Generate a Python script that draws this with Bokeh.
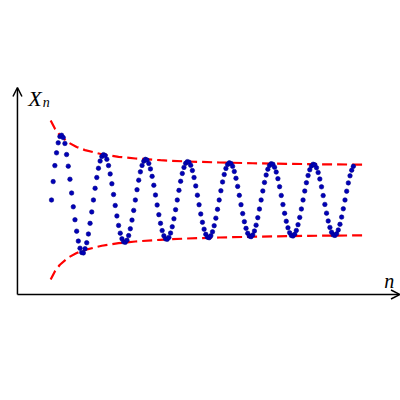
from bokeh.plotting import figure
from bokeh.models import Range1d, Arrow, OpenHead, Label
from bokeh.embed import file_html
from bokeh.resources import INLINE

# sequence index n and values X_n
n_vals = list(range(181))
x_vals = [
    1.000, 1.195, 1.364, 1.499, 1.605, 1.672, 1.685, 1.660, 1.598, 1.481,
    1.358, 1.220, 1.074, 0.928, 0.791, 0.670, 0.565, 0.490, 0.445, 0.440,
    0.485, 0.548, 0.640, 0.753, 0.874,
    1.000, 1.124, 1.238, 1.336, 1.412, 1.460, 1.480, 1.470, 1.430, 1.364,
    1.276, 1.172, 1.058, 0.942, 0.831, 0.731, 0.649, 0.590, 0.557, 0.552,
    0.574, 0.623, 0.696, 0.787, 0.890,
    1.000, 1.109, 1.210, 1.298, 1.366, 1.411, 1.430, 1.422, 1.387, 1.329,
    1.250, 1.156, 1.053, 0.947, 0.845, 0.753, 0.676, 0.621, 0.589, 0.584,
    0.604, 0.650, 0.717, 0.801, 0.898,
    1.000, 1.102, 1.198, 1.281, 1.345, 1.388, 1.406, 1.400, 1.367, 1.312,
    1.238, 1.149, 1.051, 0.950, 0.852, 0.764, 0.691, 0.637, 0.607, 0.601,
    0.621, 0.663, 0.728, 0.808, 0.901,
    1.000, 1.098, 1.191, 1.270, 1.334, 1.375, 1.393, 1.386, 1.356, 1.302,
    1.230, 1.144, 1.049, 0.951, 0.856, 0.771, 0.700, 0.648, 0.618, 0.612,
    0.630, 0.672, 0.734, 0.813, 0.904,
    1.000, 1.096, 1.186, 1.264, 1.326, 1.366, 1.384, 1.378, 1.347, 1.296,
    1.226, 1.141, 1.048, 0.952, 0.859, 0.775, 0.706, 0.654, 0.625, 0.619,
    0.638, 0.678, 0.739, 0.816, 0.905,
    1.000, 1.095, 1.183, 1.259, 1.320, 1.360, 1.378, 1.372, 1.342, 1.291,
    1.222, 1.139, 1.047, 0.953, 0.861, 0.778, 0.710, 0.659, 0.631, 0.625,
    0.642, 0.683, 0.743, 0.819, 0.907,
    1.000, 1.093, 1.181, 1.256, 1.316, 1.356,
]

# envelope curves (limsup / liminf bounds)
env_n = [-0.5, 2, 5, 10, 15, 20, 30, 40, 50, 65, 80, 100, 120, 140, 160, 186]
env_upper = [1.842, 1.756, 1.685, 1.609, 1.561, 1.528, 1.484, 1.457, 1.439,
             1.421, 1.408, 1.397, 1.389, 1.383, 1.378, 1.374]
env_lower = [0.158, 0.244, 0.315, 0.391, 0.439, 0.472, 0.516, 0.543, 0.561,
             0.579, 0.592, 0.603, 0.611, 0.617, 0.622, 0.626]

# axis extents
x_axis_start = -20.3
x_axis_end = 207.8
y_axis_top = 2.19

p = figure(width=400, height=400, output_backend="svg", toolbar_location=None,
           x_range=Range1d(-30.41, 208.1), y_range=Range1d(-1.1217, 3.111),
           x_axis_type=None, y_axis_type=None, min_border=0)
p.grid.visible = False
p.outline_line_color = None
p.background_fill_color = "white"
p.border_fill_color = "white"

p.line(env_n, env_upper, line_color="#ff0000", line_width=2.2, line_dash="10 5")
p.line(env_n, env_lower, line_color="#ff0000", line_width=2.2, line_dash="10 5")

p.scatter(n_vals, x_vals, size=4.5, fill_color="#0000b8", line_color="#00008a",
          line_width=0.6)

p.add_layout(Arrow(x_start=x_axis_start, y_start=0, x_end=x_axis_start, y_end=y_axis_top,
                   line_color="black", line_width=1.5,
                   end=OpenHead(size=9, line_width=1.5, line_color="black")))
p.add_layout(Arrow(x_start=x_axis_start, y_start=0, x_end=x_axis_end, y_end=0,
                   line_color="black", line_width=1.5,
                   end=OpenHead(size=9, line_width=1.5, line_color="black")))

p.add_layout(Label(x=-13.9, y=2.07, text="X", text_font="Liberation Serif",
                   text_font_style="italic", text_font_size="22px",
                   text_baseline="alphabetic", text_color="black"))
p.add_layout(Label(x=-5.2, y=2.03, text="n", text_font="Liberation Serif",
                   text_font_style="italic", text_font_size="14px",
                   text_baseline="alphabetic", text_color="black"))
p.add_layout(Label(x=198.4, y=0.145, text="n", text_font="Liberation Serif",
                   text_font_style="italic", text_font_size="20px",
                   text_baseline="alphabetic", text_color="black"))

open("out.html", "w").write(file_html(p, INLINE))
